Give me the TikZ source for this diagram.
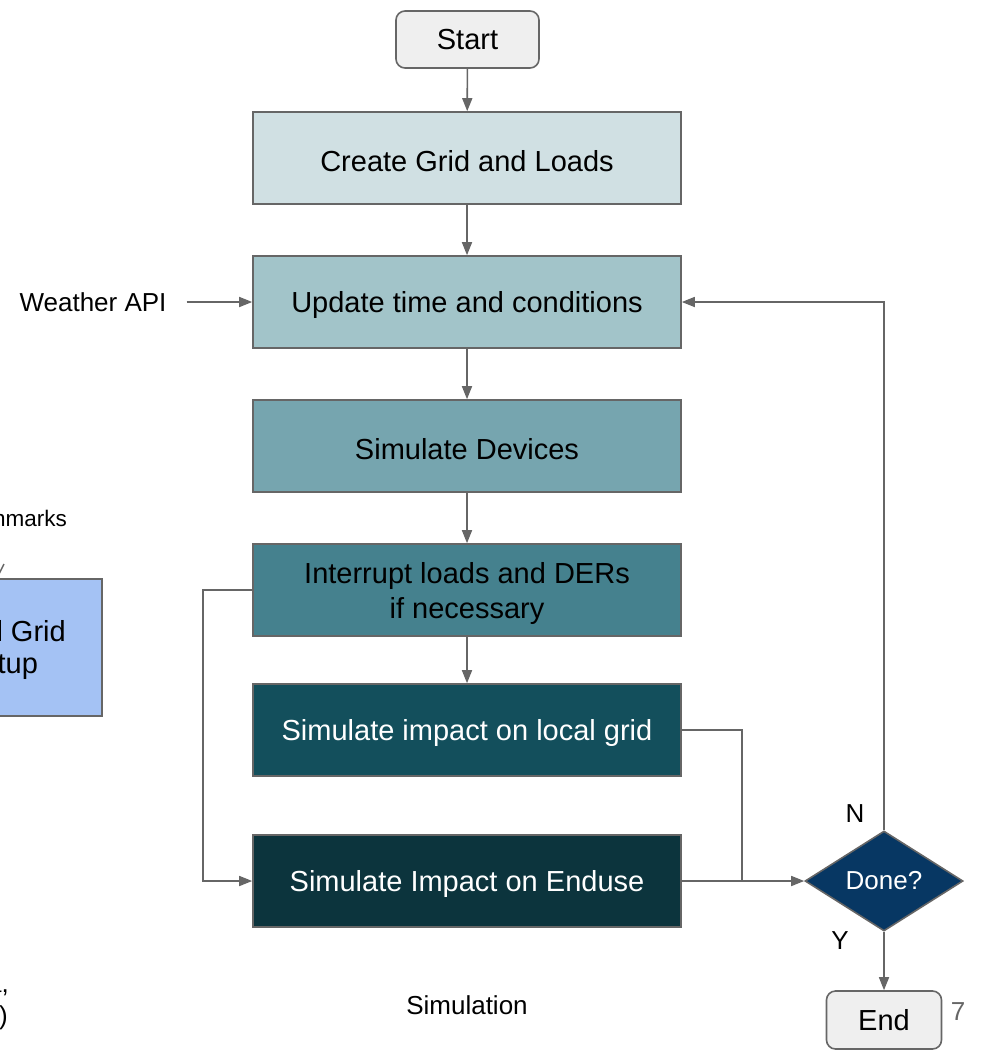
\documentclass[tikz,border=0pt]{standalone}
\usepackage{fontspec}
\setmainfont{Liberation Sans}
\usetikzlibrary{arrows.meta,shapes.geometric}
\definecolor{linegray}{HTML}{666666}
\definecolor{cA}{HTML}{D0E0E3}
\definecolor{cB}{HTML}{A2C4C9}
\definecolor{cC}{HTML}{76A5AF}
\definecolor{cD}{HTML}{45818E}
\definecolor{cE}{HTML}{134F5C}
\definecolor{cF}{HTML}{0C343D}
\definecolor{cDone}{HTML}{073763}
\definecolor{cTerm}{HTML}{EFEFEF}
\definecolor{cSetup}{HTML}{A4C2F4}
\definecolor{numgray}{HTML}{666666}
\begin{document}
\begin{tikzpicture}[x=1pt,y=-1pt,
  box/.style={draw=linegray, line width=1.6pt, minimum width=428pt, minimum height=92pt,
    inner sep=0pt},
  boxtext/.style={inner sep=0pt, align=center, font=\fontsize{29}{35}\selectfont, yshift=-3pt},
  term/.style={draw=linegray, line width=1.6pt, rounded corners=9pt, fill=cTerm,
    inner sep=0pt, font=\fontsize{29}{34}\selectfont},
  lbl/.style={inner sep=0pt, font=\fontsize{26}{30}\selectfont},
  arr/.style={draw=linegray, line width=1.6pt, -{Triangle[length=13pt,width=10pt]}},
  ln/.style={draw=linegray, line width=1.6pt}]
\useasboundingbox (0,0) rectangle (981,1055);
\clip (0,0) rectangle (981,1055);

% partial content on the left edge
\node[anchor=east, inner sep=0pt, font=\fontsize{22.5}{27}\selectfont] (bm) at (67,518) {Benchmarks};
\draw[linegray, line width=1.4pt] (-2,576) -- (4,564);
\node[draw=linegray, line width=1.6pt, fill=cSetup, minimum width=162pt, minimum height=137pt, inner sep=0pt] (setup) at (21,647.5) {};
\node[lbl, anchor=east, font=\fontsize{29}{34}\selectfont] (setupA) at (66,631) {Local Grid};
\node[lbl, anchor=west, font=\fontsize{29}{34}\selectfont] (setupB) at (-38,666) {Setup};
\node[lbl, anchor=east] (noteA) at (9,985) {data,};
\node[lbl, anchor=east] (noteB) at (8,1018) {(optional)};

% main flow
\node[term, minimum width=143pt, minimum height=57pt] (start) at (467.5,39.5) {\raisebox{-1pt}{Start}};
\node[box, fill=cA] (b1) at (467,158) {};
\node[boxtext] at (b1) {Create Grid and Loads};
\node[box, fill=cB] (b2) at (467,302) {};
\node[boxtext] at (b2) {Update time and conditions};
\node[box, fill=cC] (b3) at (467,446) {};
\node[boxtext] at (b3) {Simulate Devices};
\node[box, fill=cD] (b4) at (467,590) {};
\node[boxtext] at (b4) {Interrupt loads and DERs\\if necessary};
\node[box, fill=cE] (b5) at (467,730) {};
\node[boxtext, text=white] at (b5) {Simulate impact on local grid};
\node[box, fill=cF] (b6) at (467,881) {};
\node[boxtext, text=white] at (b6) {Simulate Impact on Enduse};
\node[diamond, draw=linegray, line width=1.6pt, fill=cDone, text=white, inner sep=0pt,
  minimum width=158pt, minimum height=100pt, font=\fontsize{26}{30}\selectfont] (done) at (884,881) {Done?};
\node[term, minimum width=115pt, minimum height=58pt] (end) at (884,1020) {End};

\node[lbl] (weather) at (93,302) {Weather API};
\node[lbl] (sim) at (467,1005) {Simulation};
\node[lbl] (nl) at (855,814) {N};
\node[lbl] (yl) at (840,941) {Y};
\node[lbl, text=numgray] (pg) at (958,1012) {7};

% connectors
\draw[arr] (start) -- (b1);
\draw[arr] (b1) -- (b2);
\draw[arr] (b2) -- (b3);
\draw[arr] (b3) -- (b4);
\draw[arr] (b4) -- (b5);
\draw[arr] ([xshift=20pt]weather.east) -- (b2.west);
\draw[arr] (done.north) -- (done.north |- b2.east) -- (b2.east);
\draw[arr] (b4.west) -- ++(-49,0) |- (b6.west);
\coordinate (j) at (742,881);
\draw[ln] (b5.east) -- (b5.east -| j) -- (j);
\draw[arr] (b6.east) -- (done.west);
\draw[arr] (done.south) -- (end.north);
\end{tikzpicture}
\end{document}
